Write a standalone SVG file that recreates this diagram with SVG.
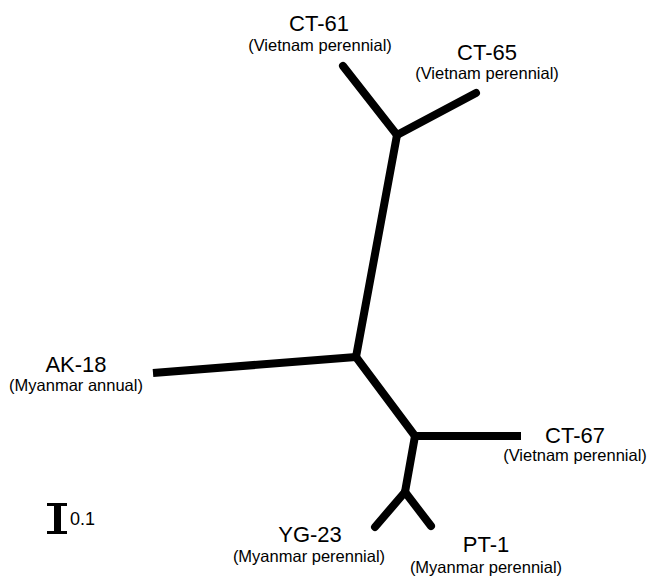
<svg xmlns="http://www.w3.org/2000/svg" width="649" height="576" viewBox="0 0 649 576">
<style>
.br{stroke:#000;stroke-width:8;fill:none;stroke-linecap:round;stroke-linejoin:round}
.bt{stroke-linecap:butt}
.nm{font-family:"Liberation Sans",Arial,sans-serif;font-size:22px;fill:#000;text-anchor:middle}
.sb{font-family:"Liberation Sans",Arial,sans-serif;font-size:16.5px;fill:#000;text-anchor:middle}
</style>
<rect width="649" height="576" fill="#fff"/>
<g id="connectors">
<line class="br" x1="343" y1="66" x2="397" y2="135"/>
<line class="br" x1="476" y1="93" x2="397" y2="135"/>
<line class="br" x1="397" y1="135" x2="356" y2="357"/>
<line class="br bt" x1="153" y1="373" x2="356" y2="357"/>
<line class="br" x1="356" y1="357" x2="415" y2="436"/>
<line class="br bt" x1="415" y1="436" x2="521" y2="436"/>
<line class="br" x1="415" y1="436" x2="405" y2="492"/>
<line class="br" x1="405" y1="492" x2="375" y2="527"/>
<line class="br" x1="405" y1="492" x2="431" y2="526"/>
</g>
<g id="CT-61"><text class="nm" x="319" y="31">CT-61</text><text class="sb" x="320" y="51">(Vietnam perennial)</text></g>
<g id="CT-65"><text class="nm" x="487" y="60">CT-65</text><text class="sb" x="487" y="79">(Vietnam perennial)</text></g>
<g id="AK-18"><text class="nm" x="76" y="372">AK-18</text><text class="sb" x="76" y="391">(Myanmar annual)</text></g>
<g id="CT-67"><text class="nm" x="575" y="443">CT-67</text><text class="sb" x="575" y="461">(Vietnam perennial)</text></g>
<g id="YG-23"><text class="nm" x="310" y="542">YG-23</text><text class="sb" x="309" y="562">(Myanmar perennial)</text></g>
<g id="PT-1"><text class="nm" x="486" y="552">PT-1</text><text class="sb" x="486" y="573">(Myanmar perennial)</text></g>
<g id="scale">
<rect x="47" y="503" width="20" height="3" fill="#000"/>
<rect x="54" y="503" width="7" height="31" fill="#000"/>
<rect x="47" y="531" width="20" height="3" fill="#000"/>
<text x="70" y="525" font-family="Liberation Sans, Arial, sans-serif" font-size="18" fill="#000">0.1</text>
</g>
</svg>
